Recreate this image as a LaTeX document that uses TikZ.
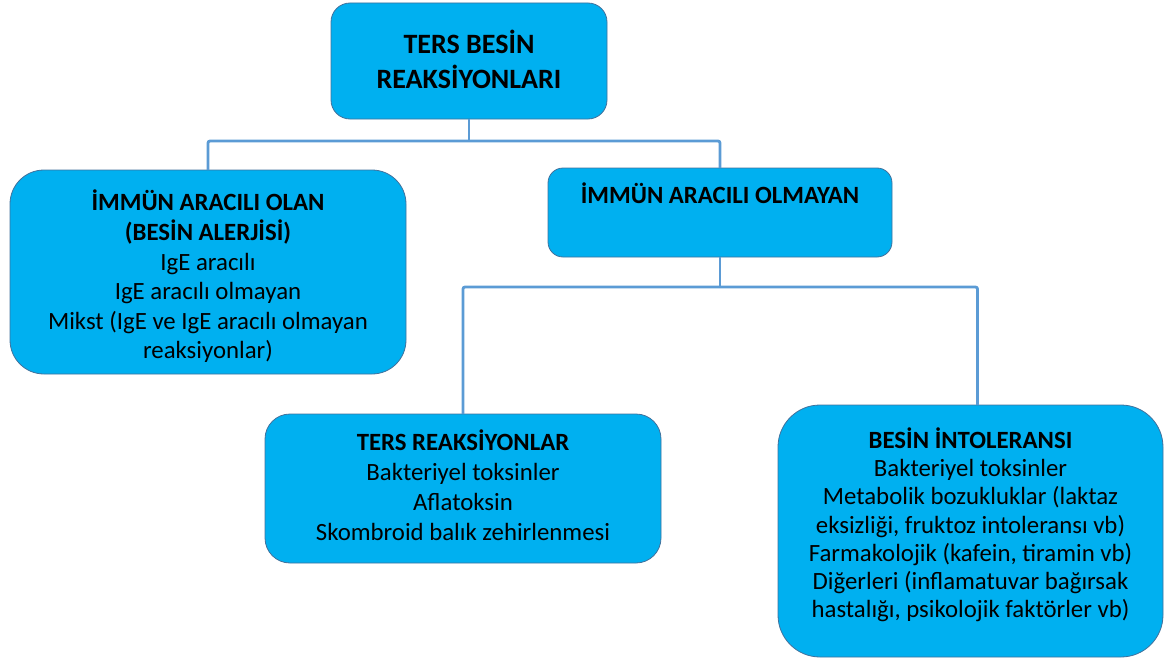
\documentclass[tikz,border=0pt]{standalone}
\usepackage{fontspec}
\setmainfont{Carlito}
\begin{document}
\begin{tikzpicture}[x=1pt,y=-1pt,
  box/.style={draw=boxedge,line width=0.8pt,fill=boxfill,inner sep=0pt,outer sep=0pt},
  conn/.style={draw=linkblue,line width=2.8pt,rounded corners=2pt},
  label/.style={anchor=north,align=center,inner sep=0pt,text=black}]
\definecolor{boxfill}{HTML}{00B0F0}
\definecolor{boxedge}{HTML}{41719C}
\definecolor{linkblue}{HTML}{5B9BD5}
\useasboundingbox (0,0) rectangle (1165,661);

% boxes
\node[box,rounded corners=19pt,minimum width=276pt,minimum height=116pt] (top) at (469,61) {};
\node[box,rounded corners=34pt,minimum width=396pt,minimum height=204pt] (immune) at (208,272) {};
\node[box,rounded corners=15pt,minimum width=344pt,minimum height=89pt] (nonimmune) at (720,212.5) {};
\node[box,rounded corners=25pt,minimum width=396pt,minimum height=149pt] (adverse) at (463,488.5) {};
\node[box,rounded corners=42pt,minimum width=385pt,minimum height=252pt] (intol) at (970.5,531) {};

% junction points of the elbow connectors
\coordinate (j1) at (469,141);
\coordinate (j2) at (720,287);

% connectors
\draw[conn] (top.south) -- (j1);
\draw[conn] (immune.north) |- (j1) -| (nonimmune.north);
\draw[conn] (nonimmune.south) -- (j2);
\draw[conn] (adverse.north) |- (j2) -| ([xshift=7pt]intol.north);

% texts
\node[label,font=\fontsize{28}{35}\selectfont\bfseries] (ttop) at (469,28.5)
  {\strut TERS BESİN\\REAKSİYONLARI};
\node[label,font=\fontsize{24.8}{29.4}\selectfont] (timmune) at (208,189.4)
  {\strut\textbf{İMMÜN ARACILI OLAN}\\\textbf{(BESİN ALERJİSİ)}\\IgE aracılı\\IgE aracılı olmayan\\Mikst (IgE ve IgE aracılı olmayan\\reaksiyonlar)};
\node[label,font=\fontsize{24.8}{29}\selectfont\bfseries] (tnonimmune) at (720,182.7)
  {\strut İMMÜN ARACILI OLMAYAN};
\node[label,font=\fontsize{24.8}{30}\selectfont] (tadverse) at (463,429)
  {\strut\textbf{TERS REAKSİYONLAR}\\Bakteriyel toksinler\\Aflatoksin\\Skombroid balık zehirlenmesi};
\node[label,font=\fontsize{24.8}{28.3}\selectfont] (tintol) at (970.5,427.2)
  {\strut\textbf{BESİN İNTOLERANSI}\\Bakteriyel toksinler\\Metabolik bozukluklar (laktaz\\eksizliği, fruktoz intoleransı vb)\\Farmakolojik (kafein, tiramin vb)\\Diğerleri (inflamatuvar bağırsak\\hastalığı, psikolojik faktörler vb)};
\end{tikzpicture}
\end{document}
